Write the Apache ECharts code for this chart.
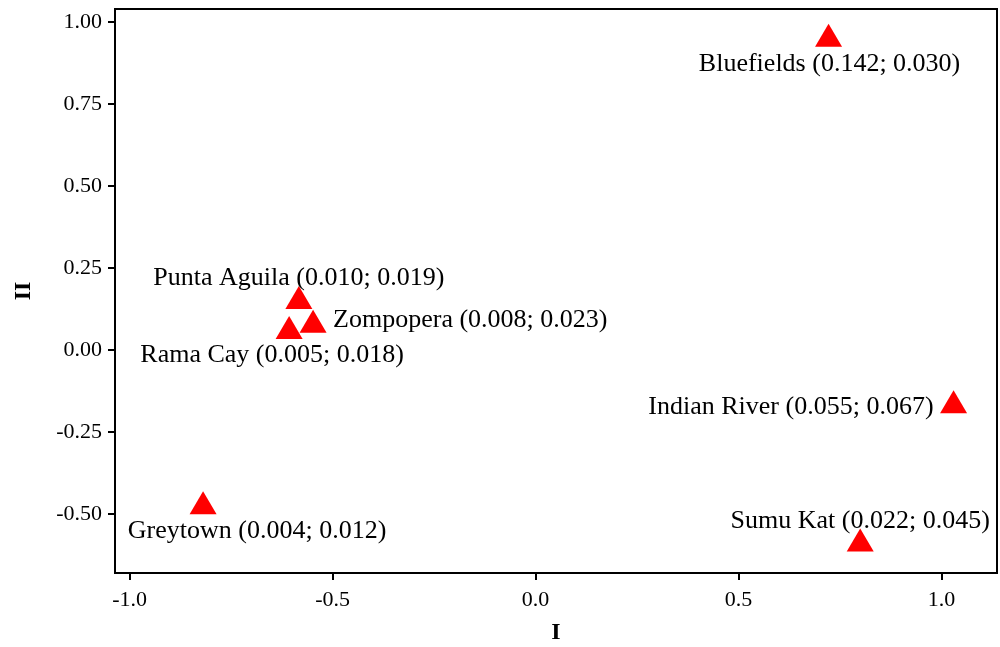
<!DOCTYPE html>
<html>
<head>
<meta charset="utf-8">
<script src="https://cdn.jsdelivr.net/npm/echarts@6/dist/echarts.min.js"></script>
<style>html,body{margin:0;padding:0;background:#fff}#c{width:1000px;height:647px}</style>
</head>
<body>
<div id="c"></div>
<script>
const names = ["Bluefields (0.142; 0.030)", "Punta Aguila (0.010; 0.019)", "Zompopera (0.008; 0.023)", "Rama Cay (0.005; 0.018)", "Indian River (0.055; 0.067)", "Greytown (0.004; 0.012)", "Sumu Kat (0.022; 0.045)"];
const xValues = [0.722, -0.583, -0.548, -0.607, 1.030, -0.819, 0.800];
const yValues = [0.960, 0.160, 0.088, 0.069, -0.158, -0.466, -0.579];
const xTicks = [-1.0, -0.5, 0.0, 0.5, 1.0];
const yTicks = [-0.5, -0.25, 0.0, 0.25, 0.5, 0.75, 1.0];

// label placement (style only)
const labelPlace = [
  {align: 'center', offset: [1, 29]},
  {align: 'center', offset: [0, -19]},
  {align: 'left', offset: [20, -1]},
  {align: 'center', offset: [-17, 28]},
  {align: 'right', offset: [-20, 5]},
  {align: 'center', offset: [54, 28]},
  {align: 'center', offset: [0, -19]}
];

const data = names.map((n, i) => ({
  name: n,
  value: [xValues[i], yValues[i]],
  label: {position: 'inside', align: labelPlace[i].align, verticalAlign: 'middle', offset: labelPlace[i].offset}
}));

const font = '"Liberation Serif", "Times New Roman", serif';
const chart = echarts.init(document.getElementById('c'), null, {renderer: 'canvas'});
chart.setOption({
  animation: false,
  grid: {left: 115, top: 9, right: 3, bottom: 74, containLabel: false, outerBoundsMode: 'none',
         show: true, borderColor: '#000', borderWidth: 2, backgroundColor: 'transparent'},
  xAxis: {
    type: 'value', min: -1.036, max: 1.137,
    name: 'I', nameLocation: 'middle', nameGap: 48, nameMoveOverlap: false,
    nameTextStyle: {fontFamily: font, fontWeight: 'bold', fontSize: 24, color: '#000'},
    axisLine: {show: true, onZero: false, lineStyle: {color: '#000', width: 2}},
    axisTick: {show: true, length: 7, lineStyle: {color: '#000', width: 2}, customValues: xTicks},
    axisLabel: {fontFamily: font, fontSize: 22, color: '#000', margin: 16, customValues: xTicks, formatter: v => v.toFixed(1)},
    splitLine: {show: false}
  },
  yAxis: {
    type: 'value', min: -0.68, max: 1.04,
    name: 'II', nameLocation: 'middle', nameGap: 79, nameMoveOverlap: false,
    nameTextStyle: {fontFamily: font, fontWeight: 'bold', fontSize: 24, color: '#000'},
    axisLine: {show: true, onZero: false, lineStyle: {color: '#000', width: 2}},
    axisTick: {show: true, length: 7, lineStyle: {color: '#000', width: 2}, customValues: yTicks},
    axisLabel: {fontFamily: font, fontSize: 22, color: '#000', margin: 13, customValues: yTicks, formatter: v => v.toFixed(2)},
    splitLine: {show: false}
  },
  series: [{
    type: 'scatter',
    symbol: 'triangle',
    symbolSize: [27, 23],
    itemStyle: {color: '#ff0000', opacity: 1},
    label: {show: true, formatter: p => p.name, fontFamily: font, fontSize: 26, color: '#000', opacity: 1},
    data: data
  }]
});
</script>
</body>
</html>
